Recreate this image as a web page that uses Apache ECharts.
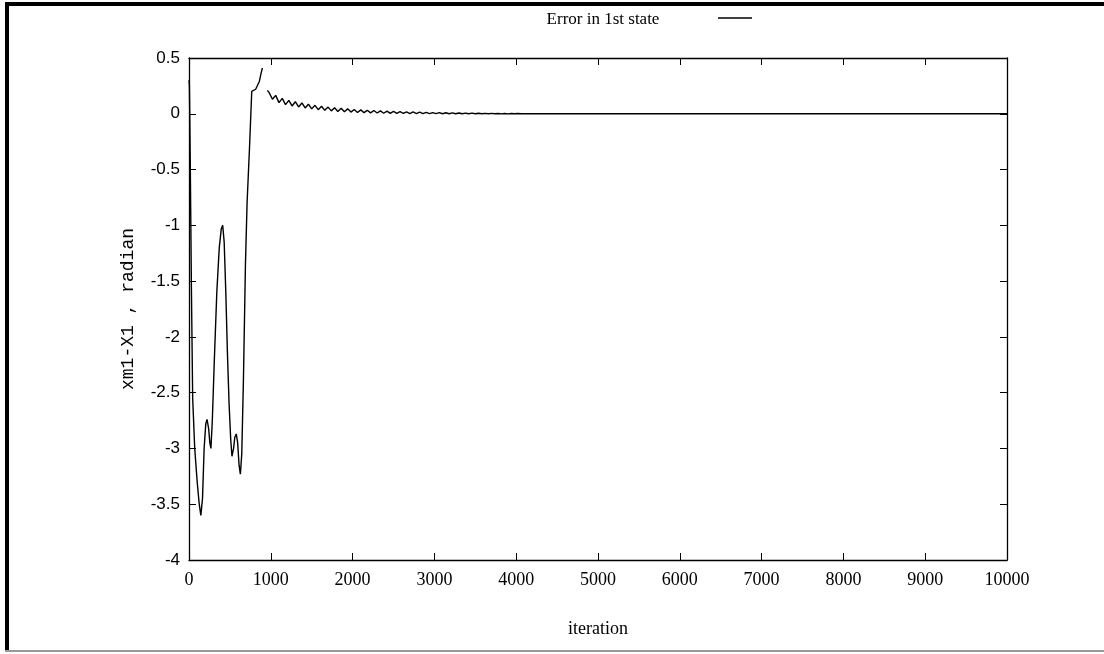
<!DOCTYPE html>
<html>
<head>
<meta charset="utf-8">
<title>Error in 1st state</title>
<script src="https://cdn.jsdelivr.net/npm/echarts@6/dist/echarts.min.js"></script>
<style>
  html, body { margin: 0; padding: 0; background: #fff; }
  #chart { width: 1104px; height: 654px; }
</style>
</head>
<body>
<div id="chart"></div>
<script>
// transient part
var iterEarly = [0, 5, 15, 30, 45, 70, 100, 125, 145, 165, 185, 205, 220, 240, 255, 268, 285, 310, 340, 370, 395, 412, 430, 450, 470, 490, 510, 525, 545, 560, 578, 595, 612, 628, 645, 665, 690, 710, 740, 767, 790, 815, 836, 860, 880, 897];
var errEarly  = [0.30, 0.25, -0.4, -1.6, -2.55, -3.0, -3.3, -3.5, -3.6, -3.45, -3.0, -2.78, -2.74, -2.82, -2.95, -3.0, -2.75, -2.2, -1.6, -1.2, -1.03, -1.0, -1.15, -1.6, -2.15, -2.6, -2.92, -3.07, -3.0, -2.9, -2.87, -2.95, -3.15, -3.23, -3.05, -2.4, -1.35, -0.8, -0.3, 0.2, 0.21, 0.22, 0.23, 0.29, 0.36, 0.41];

// damped ripple after the jump
var iterOsc = [958, 980, 1020, 1060, 1100, 1140, 1180, 1220, 1260, 1300, 1340, 1380, 1420, 1460, 1500, 1540, 1580, 1620, 1660, 1700, 1740, 1780, 1820, 1860, 1900, 1940, 1980, 2020, 2060, 2100, 2140, 2180, 2220, 2260, 2300, 2340, 2380, 2420, 2460, 2500, 2540, 2580, 2620, 2660, 2700, 2740, 2780, 2820, 2860, 2900, 2940, 2980, 3020, 3060, 3100, 3140, 3180, 3220, 3260, 3300, 3340, 3380, 3420, 3460, 3500, 3540, 3580, 3620, 3660, 3700, 3740, 3780, 3820, 3860, 3900, 3940, 3980, 4020, 4060, 4100, 4140];
var errOsc  = [0.21, 0.19, 0.13, 0.165, 0.10, 0.138, 0.082, 0.12, 0.07, 0.108, 0.061, 0.097, 0.052, 0.086, 0.044, 0.076, 0.037, 0.067, 0.031, 0.060, 0.026, 0.054, 0.021, 0.049, 0.018, 0.044, 0.015, 0.039, 0.012, 0.035, 0.010, 0.031, 0.008, 0.029, 0.007, 0.026, 0.005, 0.024, 0.004, 0.021, 0.004, 0.019, 0.003, 0.017, 0.002, 0.016, 0.002, 0.014, 0.001, 0.013, 0.001, 0.011, 0.001, 0.010, 0.000, 0.009, 0.000, 0.008, 0.000, 0.007, 0.000, 0.006, 0.000, 0.006, 0.000, 0.005, 0.000, 0.004, 0.000, 0.004, 0.000, 0.003, -0.001, 0.003, -0.001, 0.002, 0.000, 0.002, 0.000, 0.001, 0.0];

// settled
var iterTail = [4200, 10000];
var errTail  = [0.0, 0.0];

function zip(xs, ys){
    var out = [];
    for (var i = 0; i < xs.length; i++) out.push([xs[i], ys[i]]);
    return out;
}

var lineData = zip(iterEarly, errEarly)
    .concat([[930, null]])
    .concat(zip(iterOsc, errOsc))
    .concat(zip(iterTail, errTail));

var chart = echarts.init(document.getElementById('chart'));

var tickIn = { show: true, inside: true, length: 7, lineStyle: { color: '#000', width: 1 } };
var axisLn = { show: true, onZero: false, lineStyle: { color: '#000', width: 1.3 } };

chart.setOption({
    animation: false,
    backgroundColor: '#fff',
    title: {
        text: 'Error in 1st state',
        left: 598, top: 6, textAlign: 'center',
        textStyle: { fontFamily: 'Liberation Serif', fontWeight: 'normal', fontSize: 17, color: '#000' }
    },
    grid: { left: 189, right: 97, top: 58, height: 502 },
    xAxis: [{
        type: 'value', min: 0, max: 10000, interval: 1000, position: 'bottom',
        name: 'iteration', nameLocation: 'middle', nameGap: 60,
        nameTextStyle: { fontFamily: 'Liberation Serif', fontSize: 18, color: '#000' },
        axisLine: axisLn, axisTick: tickIn, splitLine: { show: false },
        axisLabel: { color: '#000', fontFamily: 'Liberation Serif', fontSize: 18, margin: 11,
            formatter: function(v){ return String(v); } }
    }, {
        type: 'value', min: 0, max: 10000, interval: 1000, position: 'top',
        axisLine: axisLn, axisTick: tickIn, axisLabel: { show: false }, splitLine: { show: false }
    }],
    yAxis: [{
        type: 'value', min: -4, max: 0.5, interval: 0.5, position: 'left',
        name: 'xm1-X1 , radian', nameLocation: 'middle', nameGap: 52,
        nameTextStyle: { fontFamily: 'Liberation Mono', fontSize: 18, color: '#000' },
        axisLine: axisLn, axisTick: tickIn, splitLine: { show: false },
        axisLabel: { color: '#000', fontFamily: 'Liberation Sans', fontSize: 17, margin: 9 }
    }, {
        type: 'value', min: -4, max: 0.5, interval: 0.5, position: 'right',
        axisLine: axisLn, axisTick: tickIn, axisLabel: { show: false }, splitLine: { show: false }
    }],
    series: [{
        type: 'line',
        data: lineData,
        showSymbol: false,
        connectNulls: false,
        lineStyle: { color: '#000', width: 1.4 }
    }],
    graphic: [
        { type: 'line', shape: { x1: 5, y1: 4, x2: 1104, y2: 4 }, style: { stroke: '#000', lineWidth: 4 } },
        { type: 'line', shape: { x1: 7, y1: 2, x2: 7, y2: 652 }, style: { stroke: '#000', lineWidth: 4 } },
        { type: 'line', shape: { x1: 5, y1: 651, x2: 1104, y2: 651 }, style: { stroke: '#999', lineWidth: 2 } },
        { type: 'line', shape: { x1: 718, y1: 18, x2: 752, y2: 18 }, style: { stroke: '#000', lineWidth: 1.5 } }
    ]
});
</script>
</body>
</html>
